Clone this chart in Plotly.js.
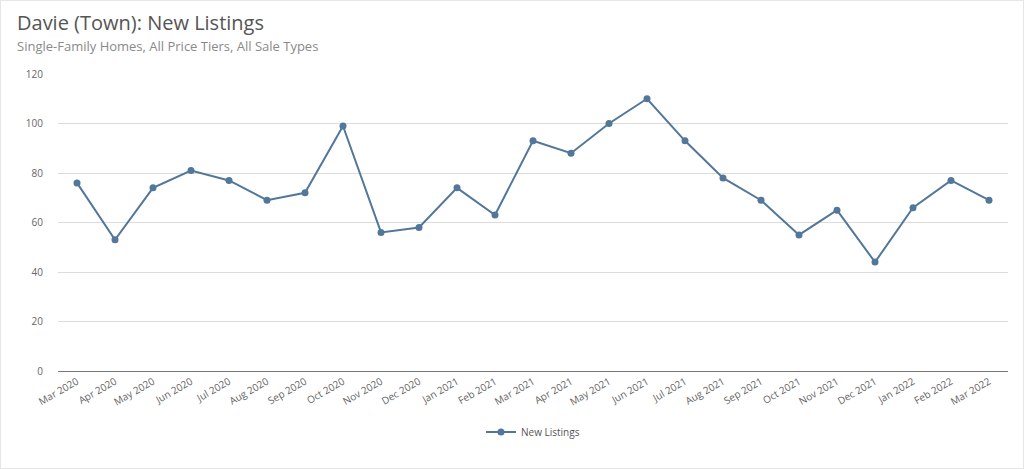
<!DOCTYPE html>
<html>
<head>
<meta charset="utf-8">
<script src="https://cdn.plot.ly/plotly-3.0.1.min.js"></script>
<style>
html,body{margin:0;padding:0;background:#fff;}
#chart{width:1024px;height:469px;box-sizing:border-box;border:1px solid #e6e6e6;}
</style>
</head>
<body>
<div id="chart"></div>
<script>
const months = ["Mar 2020","Apr 2020","May 2020","Jun 2020","Jul 2020","Aug 2020","Sep 2020","Oct 2020","Nov 2020","Dec 2020","Jan 2021","Feb 2021","Mar 2021","Apr 2021","May 2021","Jun 2021","Jul 2021","Aug 2021","Sep 2021","Oct 2021","Nov 2021","Dec 2021","Jan 2022","Feb 2022","Mar 2022"];
const newListings = [76,53,74,81,77,69,72,99,56,58,74,63,93,88,100,110,93,78,69,55,65,44,66,77,69];
const yTicks = [0,20,40,60,80,100,120];
const seriesName = "New Listings";
const titleText = "Davie (Town): New Listings";
const subtitleText = "Single-Family Homes, All Price Tiers, All Sale Types";

const FONT = "'Open Sans', 'Noto Sans', sans-serif";
const trace = {
  x: months, y: newListings, type: 'scatter', mode: 'lines+markers', name: seriesName,
  line: {color: '#52779a', width: 2},
  marker: {color: '#52779a', size: 7}
};
const layout = {
  width: 1022, height: 467,
  margin: {l: 57, r: 15, t: 73, b: 97},
  paper_bgcolor: '#fff', plot_bgcolor: '#fff',
  font: {family: FONT, color: '#666', size: 10},
  showlegend: true,
  legend: {orientation: 'h', x: 0.5, xanchor: 'center', yref: 'container', y: 0.077, yanchor: 'middle', font: {size: 10, color: '#555'}},
  xaxis: {
    type: 'category', range: [-0.5, 24.5], tickangle: -30, showgrid: false, automargin: false,
    showline: true, linecolor: '#777', linewidth: 1, ticks: '',
    tickfont: {size: 10, color: '#666'}, zeroline: false
  },
  yaxis: {
    range: [0, 120], tickvals: yTicks, showgrid: true, gridcolor: '#dcdcdc', gridwidth: 1, automargin: false,
    zeroline: false, showline: false, ticks: '', ticklen: 0,
    tickfont: {size: 10, color: '#666'}, ticklabelstandoff: 14
  },
  annotations: [
    {text: titleText, xref: 'paper', yref: 'paper', x: 0, y: 1, xanchor: 'left', yanchor: 'bottom',
     showarrow: false, font: {size: 20, color: '#555', family: FONT}, xshift: -43, yshift: 36},
    {text: subtitleText, xref: 'paper', yref: 'paper', x: 0, y: 1, xanchor: 'left', yanchor: 'bottom',
     showarrow: false, font: {size: 13, color: '#8a8a8a', family: FONT}, xshift: -43, yshift: 17}
  ]
};
Plotly.newPlot('chart', [trace], layout, {displayModeBar: false, staticPlot: true});
</script>
</body>
</html>
